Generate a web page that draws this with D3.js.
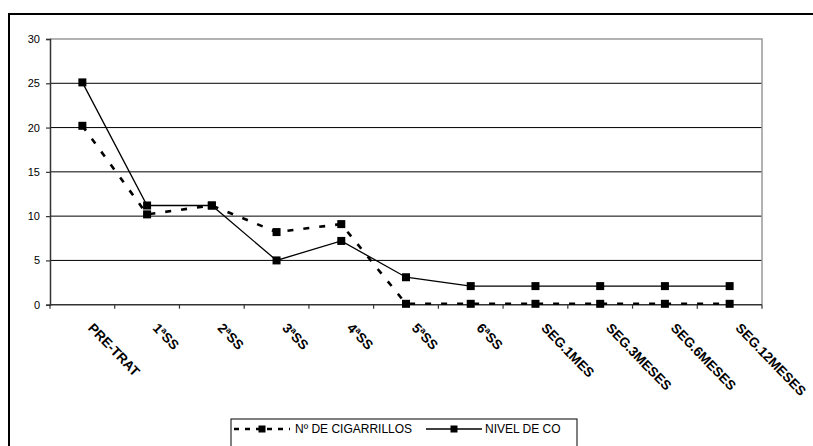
<!DOCTYPE html>
<html>
<head>
<meta charset="utf-8">
<script src="https://cdn.jsdelivr.net/npm/d3@7/dist/d3.min.js"></script>
<style>
  html, body { margin: 0; padding: 0; background: #fff; }
  svg { display: block; font-family: "Liberation Sans", Arial, sans-serif; }
</style>
</head>
<body>
<svg id="chart" width="813" height="446"></svg>
<script>
// Sessions of the treatment and follow-up
const categories = ["PRE-TRAT", "1ªSS", "2ªSS", "3ªSS", "4ªSS", "5ªSS", "6ªSS",
  "SEG.1MES", "SEG.3MESES", "SEG.6MESES", "SEG.12MESES"];
// Number of cigarettes per session
const cigarrillos = [20.2, 10.2, 11.2, 8.2, 9.1, 0.1, 0.1, 0.1, 0.1, 0.1, 0.1];
// Carbon monoxide level per session
const nivelCO = [25.1, 11.2, 11.2, 5, 7.2, 3.1, 2.1, 2.1, 2.1, 2.1, 2.1];
const yTicks = [0, 5, 10, 15, 20, 25, 30];
const seriesNames = ["Nº DE CIGARRILLOS", "NIVEL DE CO"];

const svg = d3.select("#chart");
const plotLeft = 50, plotRight = 762, plotTop = 39, plotBottom = 304.7;

// outer chart frame
svg.append("rect")
  .attr("x", 9).attr("y", 14).attr("width", 830).attr("height", 460)
  .attr("fill", "none").attr("stroke", "#000").attr("stroke-width", 2);

const x = d3.scaleBand().domain(categories).range([plotLeft, plotRight]).padding(0);
const y = d3.scaleLinear().domain([0, 30]).range([plotBottom, plotTop]);

// horizontal gridlines
svg.append("g").selectAll("line")
  .data(yTicks.filter(t => t > 0 && t < 30))
  .join("line")
  .attr("x1", plotLeft).attr("x2", plotRight)
  .attr("y1", d => y(d)).attr("y2", d => y(d))
  .attr("stroke", "#000").attr("stroke-width", 1);

// plot area border (top and right)
svg.append("path")
  .attr("d", `M${plotLeft},${y(30)}H${plotRight}V${plotBottom}`)
  .attr("fill", "none").attr("stroke", "#999").attr("stroke-width", 1.5);

// y axis
const yAxis = svg.append("g")
  .attr("transform", `translate(${plotLeft},0)`)
  .call(d3.axisLeft(y).tickValues(yTicks).tickSize(4).tickPadding(6).tickFormat(d3.format("d")));
yAxis.select(".domain").attr("stroke", "#333").attr("stroke-width", 1.5);
yAxis.selectAll(".tick line").attr("stroke", "#333").attr("stroke-width", 1.2);
yAxis.selectAll("text").attr("font-size", 11).attr("fill", "#000")
  .attr("font-family", "'Liberation Sans', Arial, sans-serif");

// x axis: ticks sit on the category boundaries
const boundaries = categories.map(c => x(c)).concat([plotRight]);
svg.append("g").selectAll("line")
  .data(boundaries)
  .join("line")
  .attr("x1", d => d).attr("x2", d => d)
  .attr("y1", plotBottom).attr("y2", plotBottom + 4)
  .attr("stroke", "#333").attr("stroke-width", 1.2);
svg.append("line")
  .attr("x1", plotLeft).attr("x2", plotRight).attr("y1", plotBottom).attr("y2", plotBottom)
  .attr("stroke", "#333").attr("stroke-width", 1.5);

// rotated category labels
svg.append("g").selectAll("text")
  .data(categories)
  .join("text")
  .attr("transform", d => `translate(${x(d) + x.bandwidth() / 2 + 5},${plotBottom + 24}) rotate(46)`)
  .attr("font-size", 13.5).attr("font-weight", "bold")
  .attr("text-anchor", "start")
  .text(d => d);

const cx = d => x(d) + x.bandwidth() / 2;
const line = d3.line().x(d => cx(d.cat)).y(d => y(d.v));
const msize = 8;

function drawSeries(values, dashed) {
  const pts = categories.map((c, i) => ({ cat: c, v: values[i] }));
  svg.append("path")
    .datum(pts)
    .attr("d", line)
    .attr("fill", "none").attr("stroke", "#000")
    .attr("stroke-width", dashed ? 2.6 : 1.3)
    .attr("stroke-dasharray", dashed ? "6,10" : null);
  svg.append("g").selectAll("rect")
    .data(pts)
    .join("rect")
    .attr("x", d => cx(d.cat) - msize / 2)
    .attr("y", d => y(d.v) - msize / 2)
    .attr("width", msize).attr("height", msize)
    .attr("fill", "#000");
}
drawSeries(cigarrillos, true);
drawSeries(nivelCO, false);

// legend
const lg = svg.append("g");
lg.append("rect")
  .attr("x", 231).attr("y", 419).attr("width", 346).attr("height", 40)
  .attr("fill", "#fff").attr("stroke", "#000").attr("stroke-width", 1);
const legendItems = [
  { name: seriesNames[0], x0: 234, x1: 290, tx: 295, dashed: true },
  { name: seriesNames[1], x0: 426, x1: 482, tx: 485, dashed: false }
];
const ly = 429;
legendItems.forEach(it => {
  lg.append("line")
    .attr("x1", it.x0).attr("x2", it.x1).attr("y1", ly).attr("y2", ly)
    .attr("stroke", "#000")
    .attr("stroke-width", it.dashed ? 2.6 : 1.3)
    .attr("stroke-dasharray", it.dashed ? "5,6" : null);
  lg.append("rect")
    .attr("x", (it.x0 + it.x1) / 2 - 3.5).attr("y", ly - 3.5)
    .attr("width", 7).attr("height", 7).attr("fill", "#000");
  lg.append("text")
    .attr("x", it.tx).attr("y", ly).attr("dy", "0.35em")
    .attr("font-size", 12).text(it.name);
});
</script>
</body>
</html>
